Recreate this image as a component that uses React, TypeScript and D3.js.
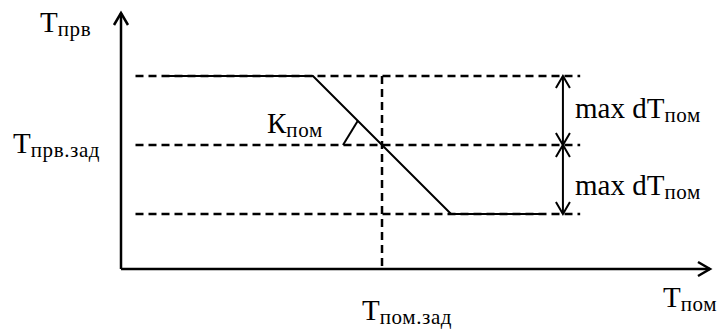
import React from "react";
import { scaleLinear, line } from "d3";

// characteristic Tпрв = f(Tпом), in units of max dTпом around the setpoints
const curveX = [-3.12, -1, 1, 2.29];
const curveY = [1, 1, -1, -1];

// dashed reference levels: max, setpoint, min
const levels = [1, 0, -1];
const levelFrom = -3.57;
const levelTo = 2.87;

const setpointX = 0; // Tпом.зад
const dimX = 2.62; // where the max dTпом dimension sits
const angleMark = [
  [-0.565, 0],
  [-0.35, 0.35],
];

const W = 717;
const H = 329;

const ARROW = 12;
const WING = 7;

export default function App() {
  const x = scaleLinear().domain([-3.78, 4.75]).range([121, 710]);
  const y = scaleLinear().domain([-1, 1]).range([214, 76]);
  const yAxisBottom = y(-1.797);
  const yAxisTop = y(1.913);

  const curve = line<number>()
    .x((d) => x(d))
    .y((d, i) => y(curveY[i]));

  const font = "'Liberation Serif', serif";
  const big = 29;
  const small = 21;

  // arrowhead as two wings pointing at (px,py) in direction (dx,dy)
  const head = (px: number, py: number, dx: number, dy: number) => {
    const nx = -dy;
    const ny = dx;
    return `M${px - dx * ARROW + nx * WING},${py - dy * ARROW + ny * WING}L${px},${py}L${
      px - dx * ARROW - nx * WING
    },${py - dy * ARROW - ny * WING}`;
  };

  const label = (main: string, sub: string, lx: number, ly: number, key: string) => (
    <text key={key} x={lx} y={ly} style={{ fontFamily: font }} fontSize={big} fill="#000">
      {main}
      <tspan fontSize={small} dy={4} letterSpacing={0.6}>
        {sub}
      </tspan>
    </text>
  );

  return (
    <svg
      width={W}
      height={H}
      style={{ position: "absolute", left: 0, top: 0, background: "#fff" }}
    >
      {/* dashed levels */}
      {levels.map((l) => (
        <line
          key={l}
          x1={x(levelFrom)}
          x2={x(levelTo)}
          y1={y(l)}
          y2={y(l)}
          stroke="#000"
          strokeWidth={2.5}
          strokeDasharray="8,5"
        />
      ))}
      {/* setpoint vertical */}
      <line
        x1={x(setpointX)}
        x2={x(setpointX)}
        y1={y(1)}
        y2={yAxisBottom}
        stroke="#000"
        strokeWidth={2.5}
        strokeDasharray="8,5"
      />
      {/* characteristic */}
      <path d={curve(curveX) || ""} fill="none" stroke="#000" strokeWidth={2} />
      <line
        x1={x(angleMark[0][0])}
        y1={y(angleMark[0][1])}
        x2={x(angleMark[1][0])}
        y2={y(angleMark[1][1])}
        stroke="#000"
        strokeWidth={2}
      />
      {/* axes */}
      <g stroke="#000" strokeWidth={2.5} fill="none">
        <line x1={x(-3.78)} x2={x(4.75)} y1={yAxisBottom} y2={yAxisBottom} />
        <line x1={x(-3.78)} x2={x(-3.78)} y1={yAxisBottom} y2={yAxisTop} />
        <path d={head(x(4.75), yAxisBottom, 1, 0)} />
        <path d={head(x(-3.78), yAxisTop, 0, -1)} />
      </g>
      {/* max dT dimension */}
      <g stroke="#000" strokeWidth={2} fill="none">
        <line x1={x(dimX)} x2={x(dimX)} y1={y(1)} y2={y(-1)} />
        <path d={head(x(dimX), y(1), 0, -1)} />
        <path d={head(x(dimX), y(0), 0, 1)} />
        <path d={head(x(dimX), y(0), 0, -1)} />
        <path d={head(x(dimX), y(-1), 0, 1)} />
      </g>
      {/* labels */}
      {label("Т", "прв", 40, 32, "tprv")}
      {label("Т", "прв.зад", 13, 153, "tprvz")}
      {label("К", "пом", 267, 133, "kpom")}
      {label("max dT", "пом", 575, 118, "dt1")}
      {label("max dT", "пом", 575, 195, "dt2")}
      {label("Т", "пом.зад", 362, 320, "tpomz")}
      {label("Т", "пом", 663, 307, "tpom")}
    </svg>
  );
}
